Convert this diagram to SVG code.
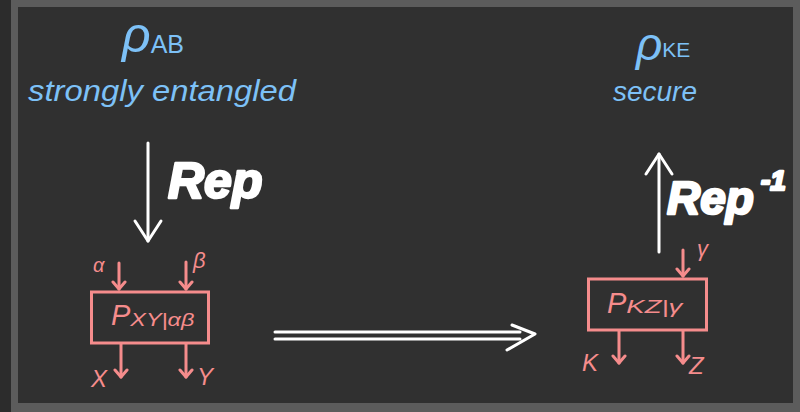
<svg xmlns="http://www.w3.org/2000/svg" width="800" height="412" viewBox="0 0 800 412">
<style>
.blue{fill:#7dc1f7;font-family:"Liberation Sans",Arial,sans-serif;font-style:italic}
.pink{fill:#f58c8c;font-family:"Liberation Sans",Arial,sans-serif;font-style:italic}
.white{fill:#ffffff;font-family:"Liberation Sans",Arial,sans-serif;font-style:italic;font-weight:bold;stroke:#ffffff;stroke-width:2.5;stroke-linejoin:round}
.pbox{fill:none;stroke:#f58c8c;stroke-width:3}
.pl{fill:none;stroke:#f58c8c;stroke-width:3;stroke-linecap:round}
.wl{fill:none;stroke:#ffffff;stroke-width:3;stroke-linecap:round;stroke-linejoin:round}
</style>
<defs>
<marker id="ph" viewBox="-10 -8 12 16" refX="0" refY="0" markerWidth="12" markerHeight="16" orient="auto" markerUnits="userSpaceOnUse">
<path d="M-7,-6 L0,0 L-7,6" fill="none" stroke="#f58c8c" stroke-width="3" stroke-linecap="round" stroke-linejoin="round"/>
</marker>
<marker id="wh" viewBox="-24 -16 28 32" refX="0" refY="0" markerWidth="28" markerHeight="32" orient="auto" markerUnits="userSpaceOnUse">
<path d="M-20,-13 L0,0 L-20,13" fill="none" stroke="#ffffff" stroke-width="3" stroke-linecap="round" stroke-linejoin="round"/>
</marker>
</defs>
<rect x="0" y="0" width="800" height="412" fill="#2c2c2c"/>
<rect x="11" y="0" width="789" height="412" fill="#5c5c5c"/>
<rect x="18" y="7" width="775" height="396" fill="#303030"/>

<g id="rhoAB">
<text class="blue" x="122" y="52" font-size="50">ρ<tspan font-size="25" font-style="normal" dy="1">AB</tspan></text>
<text class="blue" x="28" y="101" font-size="30" textLength="268" lengthAdjust="spacingAndGlyphs">strongly entangled</text>
</g>

<g id="rhoKE">
<text class="blue" x="636" y="60" font-size="46">ρ<tspan font-size="21" font-style="normal" dy="-3">KE</tspan></text>
<text class="blue" x="613" y="101" font-size="28" textLength="84" lengthAdjust="spacingAndGlyphs">secure</text>
</g>

<g id="rep">
<text class="white" x="168" y="198" font-size="50">Rep</text>
</g>

<g id="repinv">
<text class="white" x="667" y="214" font-size="46">Rep</text>
<text class="white" x="761" y="190" font-size="28" font-style="normal">-1</text>
</g>

<g id="boxXY">
<rect class="pbox" x="91.5" y="292" width="117" height="51"/>
<text class="pink" x="111" y="325" font-size="29">P<tspan font-size="19" dy="1" textLength="64" lengthAdjust="spacingAndGlyphs">XY|αβ</tspan></text>
</g>

<g id="boxKZ">
<rect class="pbox" x="588.5" y="279" width="118" height="51"/>
<text class="pink" x="607" y="313" font-size="29">P<tspan font-size="19" dy="0" textLength="56" lengthAdjust="spacingAndGlyphs">KZ|γ</tspan></text>
</g>

<g id="labels">
<text class="pink" x="93" y="272" font-size="20">α</text>
<text class="pink" x="193" y="268" font-size="22">β</text>
<text class="pink" x="91" y="387" font-size="24">X</text>
<text class="pink" x="197" y="385" font-size="24">Y</text>
<text class="pink" x="697" y="256" font-size="22">γ</text>
<text class="pink" x="582" y="371" font-size="24">K</text>
<text class="pink" x="689" y="374" font-size="24">Z</text>
</g>

<g id="connectors">
<line class="wl" x1="148" y1="143" x2="148" y2="241" marker-end="url(#wh)"/>
<line class="wl" x1="659" y1="252" x2="659" y2="154" marker-end="url(#wh)"/>
<line class="wl" x1="275" y1="332" x2="520" y2="332"/>
<line class="wl" x1="275" y1="339" x2="520" y2="339"/>
<path class="wl" d="M512,325 L535,334 L507,350"/>
<line class="pl" x1="119" y1="263" x2="119" y2="289" marker-end="url(#ph)"/>
<line class="pl" x1="186" y1="262" x2="186" y2="289" marker-end="url(#ph)"/>
<line class="pl" x1="121" y1="344" x2="121" y2="377" marker-end="url(#ph)"/>
<line class="pl" x1="186" y1="344" x2="186" y2="377" marker-end="url(#ph)"/>
<line class="pl" x1="683" y1="250" x2="683" y2="276" marker-end="url(#ph)"/>
<line class="pl" x1="619" y1="331" x2="619" y2="363" marker-end="url(#ph)"/>
<line class="pl" x1="683" y1="331" x2="683" y2="363" marker-end="url(#ph)"/>
</g>
</svg>
